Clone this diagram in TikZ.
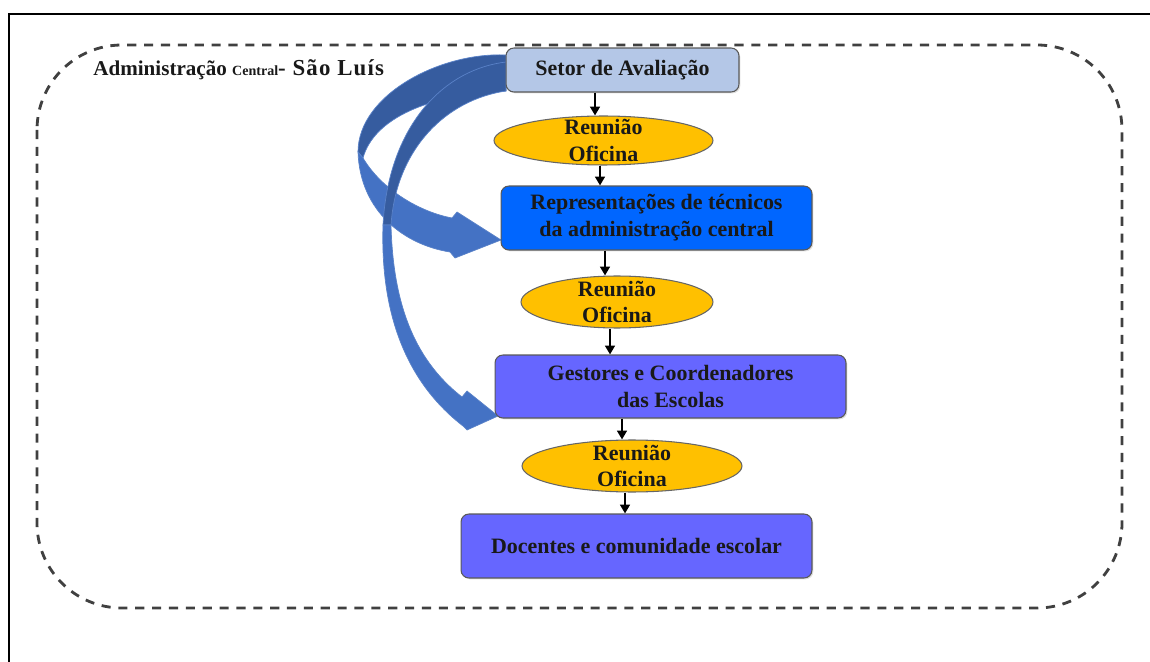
\documentclass[tikz,border=0pt]{standalone}
\usepackage{fontspec}
\setmainfont{Liberation Serif}
\usetikzlibrary{shapes.geometric,arrows.meta,shadows}
\definecolor{cbox1}{HTML}{B4C7E7}
\definecolor{camber}{HTML}{FFC000}
\definecolor{cbox2}{HTML}{0066FF}
\definecolor{cbox3}{HTML}{6666FF}
\definecolor{cdark}{HTML}{365C9F}
\definecolor{clight}{HTML}{4472C4}
\definecolor{cedge}{HTML}{5A82C8}
\newcommand\txtfont{\fontsize{12.5}{15.3}\selectfont\bfseries}
\tikzset{
  boxst/.style={draw=black!65, rounded corners=4.5pt, line width=0.6pt, inner sep=0pt, align=center, font=\txtfont, text=black!90,
    drop shadow={opacity=0.25, shadow xshift=0.8pt, shadow yshift=-0.8pt}},
  ellst/.style={ellipse, draw=black!60, fill=camber, line width=0.6pt, inner sep=0pt},
  lbl/.style={align=center, font=\txtfont, inner sep=0pt, text=black!90},
  arr/.style={-{Triangle[length=5pt,width=5.5pt]}, line width=1.3pt},
  backband/.style={fill=cdark, draw=cedge, line width=0.4pt},
  frontband/.style={fill=clight, draw=cedge, line width=0.4pt},
}
\begin{document}
\begin{tikzpicture}[x=0.02cm,y=-0.02cm]
\useasboundingbox (0,0) rectangle (1150,662);
% outer frame
\draw[line width=1.4pt] (9,662) -- (9,14) -- (1150,14);
% dashed region
\draw[line width=1.6pt, draw=black!75, dash pattern=on 5.2pt off 4.4pt, rounded corners=1.7cm] (37,45) rectangle (1122,608);
\node[anchor=west, inner sep=0pt, font=\fontsize{12}{14}\selectfont\bfseries, text=black!90] (adm) at (93,70) {Administração {\fontsize{8}{9}\selectfont Central}{\fontsize{13}{15}\selectfont\addfontfeature{LetterSpace=5}- São Luís}};

% curved block arrow 1 (to box 2)
\fill[backband] (506,55) .. controls (440,52) and (358,95) .. (358,152)
  -- (363,158) .. controls (374,118) and (430,94) .. (506,91) -- cycle;
\fill[frontband] (363,158) .. controls (382,190) and (420,212) .. (452,218)
  -- (457,212) -- (501,240) -- (455,258) -- (450,252)
  .. controls (405,245) and (360,212) .. (358,152) -- cycle;
% curved block arrow 2 (to box 3)
\fill[backband] (506,62) .. controls (440,70) and (388,130) .. (383,225)
  -- (391,225) .. controls (396,150) and (445,100) .. (506,91) -- cycle;
\fill[frontband] (383,225) .. controls (380,320) and (410,385) .. (463,426)
  -- (467,430) -- (498,416) -- (467,391) -- (462,397)
  .. controls (412,358) and (393,300) .. (391,225) -- cycle;

% nodes
\node[boxst, fill=cbox1, minimum width=4.66cm, minimum height=0.88cm] (b1) at (622.5,70) {Setor de Avaliação};
\node[ellst, minimum width=4.38cm, minimum height=0.98cm] (e1) at (603.5,140.5) {};
\node[lbl] (t1) at (e1) {Reunião\\Oficina};
\node[boxst, fill=cbox2, minimum width=6.22cm, minimum height=1.28cm] (b2) at (656.5,218) {Representações de técnicos\\da administração central};
\node[ellst, minimum width=3.84cm, minimum height=1.04cm] (e2) at (617,302) {};
\node[lbl] (t2) at (e2) {Reunião\\Oficina};
\node[boxst, fill=cbox3, minimum width=7.02cm, minimum height=1.26cm] (b3) at (670.5,386.5) {Gestores e Coordenadores\\das Escolas};
\node[ellst, minimum width=4.4cm, minimum height=1.04cm] (e3) at (632,466) {};
\node[lbl] (t3) at (e3) {Reunião\\Oficina};
\node[boxst, fill=cbox3, minimum width=7.02cm, minimum height=1.28cm] (b4) at (636.5,546) {Docentes e comunidade escolar};

% connectors
\draw[arr] ([xshift=-0.55cm]b1.south) -- ([xshift=-0.55cm]b1.south |- e1.north);
\draw[arr] ([xshift=-0.07cm]e1.south) -- ([xshift=-0.07cm]e1.south |- b2.north);
\draw[arr] ([xshift=-0.24cm]e2.north |- b2.south) -- ([xshift=-0.24cm]e2.north);
\draw[arr] ([xshift=-0.14cm]e2.south) -- ([xshift=-0.14cm]e2.south |- b3.north);
\draw[arr] ([xshift=-0.2cm]e3.north |- b3.south) -- ([xshift=-0.2cm]e3.north);
\draw[arr] ([xshift=-0.14cm]e3.south) -- ([xshift=-0.14cm]e3.south |- b4.north);
\end{tikzpicture}
\end{document}
